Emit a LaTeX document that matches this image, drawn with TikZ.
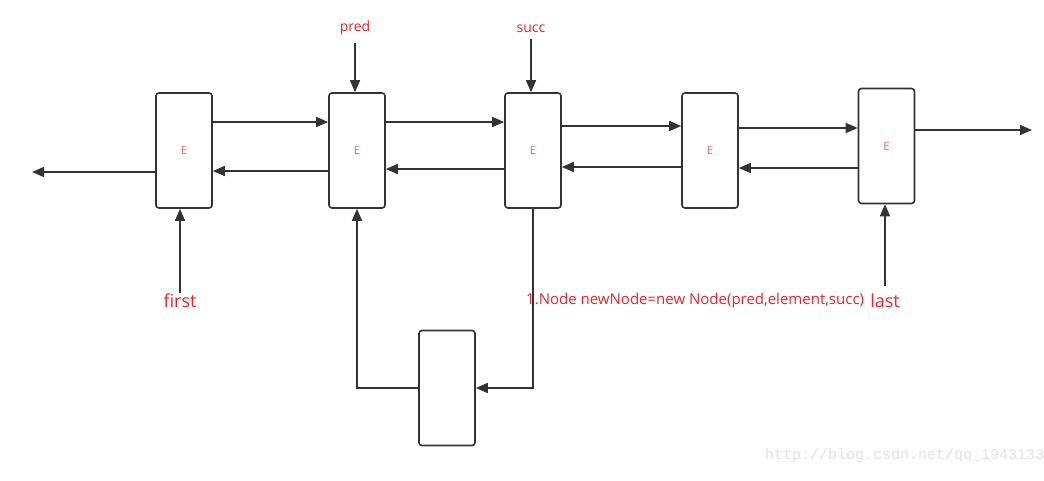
\documentclass[tikz,border=0pt]{standalone}
\usepackage{fontspec}
\setmainfont{Open Sans}
\setmonofont{Liberation Mono}
\usetikzlibrary{arrows.meta}
\definecolor{lbl}{HTML}{E8262A}
\definecolor{elbl}{HTML}{F26A6A}
\definecolor{ln}{HTML}{333333}
\definecolor{wm}{HTML}{E2E2E2}
\begin{document}
\begin{tikzpicture}[x=1pt,y=-1pt,
  box/.style={draw=ln,line width=1.6pt,rounded corners=3pt,minimum width=56pt,minimum height=115pt,inner sep=0pt,font=\fontsize{11.5}{13}\selectfont,text=elbl},
  arr/.style={draw=ln,line width=1.6pt,-{Triangle[length=12pt,width=10pt]}},
  lab/.style={text=lbl,inner sep=0pt,font=\fontsize{14}{16}\selectfont},
  code/.style={text=lbl,inner sep=0pt,font=\fontsize{15}{17}\selectfont},
  big/.style={text=lbl,inner sep=0pt,font=\fontsize{18}{20}\selectfont}]
\clip (0,0) rectangle (1044,480);
\fill[white] (0,0) rectangle (1044,480);
\node[box] (b1) at (184,150.5) {E};
\node[box] (b2) at (357,150.5) {E};
\node[box] (b3) at (533,150.5) {E};
\node[box] (b4) at (710,150.5) {E};
\node[box] (b5) at (886.5,146) {E};
\node[box] (b6) at (447,388) {};
\coordinate (lend) at (32,172);
\coordinate (rend) at (1032,130);
% forward links
\draw[arr] ([yshift=28.5pt]b1.east) -- ([yshift=28.5pt]b1.east -| b2.west);
\draw[arr] ([yshift=28.5pt]b2.east) -- ([yshift=28.5pt]b2.east -| b3.west);
\draw[arr] ([yshift=24.5pt]b3.east) -- ([yshift=24.5pt]b3.east -| b4.west);
\draw[arr] ([yshift=22.5pt]b4.east) -- ([yshift=22.5pt]b4.east -| b5.west);
\draw[arr] ([yshift=16pt]b5.east) -- (rend);
% backward links
\draw[arr] ([yshift=-20.5pt]b2.west) -- ([yshift=-20.5pt]b2.west -| b1.east);
\draw[arr] ([yshift=-18.5pt]b3.west) -- ([yshift=-18.5pt]b3.west -| b2.east);
\draw[arr] ([yshift=-16.5pt]b4.west) -- ([yshift=-16.5pt]b4.west -| b3.east);
\draw[arr] ([yshift=-22pt]b5.west) -- ([yshift=-22pt]b5.west -| b4.east);
\draw[arr] ([yshift=-21.5pt]b1.west) -- (lend);
% labels
\node[lab] (pred) at (355,28) {pred};
\node[lab] (succ) at (531,29) {succ};
\node[big] (first) at (180,301) {first};
\node[big] (last) at (885,301) {last};
\node[code,anchor=west] (code) at (526,301) {1.Node newNode=new Node(pred,element,succ)};
\draw[arr] ([yshift=-8pt]pred.south) -- (pred.south |- b2.north);
\draw[arr] ([yshift=-6pt]succ.south) -- (succ.south |- b3.north);
\draw[arr] ([yshift=1pt]first.north) -- (first.north |- b1.south);
\draw[arr] ([yshift=8pt]last.north) -- (last.north |- b5.south);
% new node links
\draw[arr] (b3.south) |- (b6.east);
\draw[arr] (b6.west) -| (b2.south);
% watermark (cut off at the right edge, as in the reference)
\node[anchor=west,inner sep=0pt,text=wm,font=\ttfamily\fontsize{15}{17}\selectfont] (wmark) at (765,456) {http://blog.csdn.net/qq\_19431333};
\end{tikzpicture}
\end{document}
